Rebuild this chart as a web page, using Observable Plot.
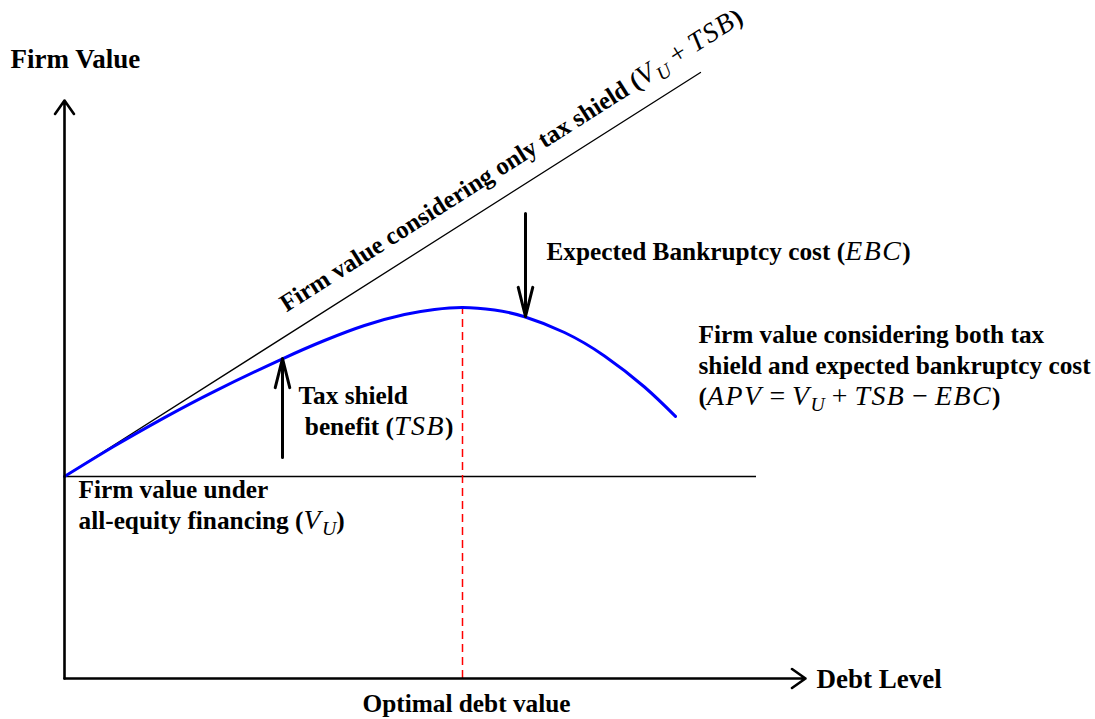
<!DOCTYPE html>
<html>
<head>
<meta charset="utf-8">
<script src="https://cdn.jsdelivr.net/npm/d3@7"></script>
<script src="https://cdn.jsdelivr.net/npm/@observablehq/plot@0.6"></script>
<style>
  html, body { margin: 0; padding: 0; background: #fff; }
  #chart svg { display: block; }
</style>
</head>
<body>
<div id="chart"></div>
<script>
// ---- Data (conceptual units) ----
const debtLevel = [0, 0.5, 1.0, 1.5, 2.18, 2.6, 3.0, 3.4, 3.7, 3.98, 4.3, 4.6, 5.0, 5.4, 5.8, 6.11];
const apvValue  = [2.02, 2.325, 2.609, 2.872, 3.197, 3.380, 3.530, 3.640, 3.690, 3.71, 3.685, 3.618, 3.460, 3.226, 2.915, 2.621];
const unleveredValue = 2.02;          // V_U
const unleveredEnd = 6.92;            // extent of the V_U line
const taxShieldX = [0, 6.36];         // V_U + TSB line
const taxShieldY = [2.02, 6.06];
const optimalDebt = 3.98;
const optimalValue = 3.71;
const axisMaxX = 7.41;
const axisMaxY = 5.78;
const tsbArrow = {x: 2.18, from: 2.21, to: 3.20};
const ebcArrow = {x: 4.61, from: 4.65, to: 3.62};

const labels = [
  {x: -0.54, y: 6.11, text: "Firm Value", size: 27, anchor: "start", lh: 1},
  {x: 7.52, y: -0.09, text: "Debt Level", size: 27, anchor: "start", lh: 1},
  {x: 4.02, y: -0.33, text: "Optimal debt value", size: 25.3, anchor: "middle", lh: 1},
  {x: 4.82, y: 4.19, text: "Expected Bankruptcy cost ($EBC$)", size: 25.3, anchor: "start", lh: 1},
  {x: 6.34, y: 2.74, text: "Firm value considering both tax\nshield and expected bankruptcy cost\n($APV = V_U + TSB − EBC$)", size: 25.3, anchor: "start", lh: 1.22},
  {x: 2.34, y: 2.44, text: "Tax shield\n\u00a0benefit ($TSB$)", size: 25.3, anchor: "start", lh: 1.19},
  {x: 0.14, y: 1.50, text: "Firm value under\nall-equity financing ($V_U$)", size: 25.3, anchor: "start", lh: 1.19}
];
const slopeLabel = {x: 2.22, y: 3.66, text: "Firm value considering only tax shield ($V_U + TSB$)", size: 25};

// ---- Build tables ----
const curve = debtLevel.map((d, i) => ({x: d, y: apvValue[i]}));
const taxLine = taxShieldX.map((d, i) => ({x: d, y: taxShieldY[i]}));

const W = 1095, H = 719;
const xScale = {domain: [0, axisMaxX], range: [64, 805]};
const yScale = {domain: [0, axisMaxY], range: [678, 100]};
const angle = -Math.atan2(
  (taxShieldY[1] - taxShieldY[0]) * (678 - 100) / axisMaxY,
  (taxShieldX[1] - taxShieldX[0]) * (805 - 64) / axisMaxX
) * 180 / Math.PI;

const font = "'Liberation Serif', 'Times New Roman', serif";

const labelMarks = labels.map(l => Plot.text([l], {
  x: "x", y: "y", text: "text", fontSize: l.size, textAnchor: l.anchor,
  lineAnchor: "bottom", lineHeight: l.lh, fontFamily: font, fontWeight: "bold", fill: "black"
}));

const plot = Plot.plot({
  width: W, height: H,
  marginTop: 0, marginRight: 0, marginBottom: 0, marginLeft: 0,
  x: {...xScale, axis: null},
  y: {...yScale, axis: null},
  style: {background: "white", overflow: "visible"},
  marks: [
    // V_U horizontal line
    Plot.ruleY([unleveredValue], {x1: 0, x2: unleveredEnd, stroke: "black", strokeWidth: 1.3}),
    // V_U + TSB line
    Plot.line(taxLine, {x: "x", y: "y", stroke: "black", strokeWidth: 1.3}),
    // optimal debt dashed line
    Plot.ruleX([optimalDebt], {y1: 0, y2: optimalValue, stroke: "#ff0000", strokeWidth: 1.5, strokeDasharray: "8,5"}),
    // APV curve
    Plot.line(curve, {x: "x", y: "y", curve: "natural", stroke: "#0000ff", strokeWidth: 3}),
    // axes
    Plot.arrow([{x1: 0, y1: 0, x2: 0, y2: axisMaxY}], {x1: "x1", y1: "y1", x2: "x2", y2: "y2", stroke: "black", strokeWidth: 2.6, headLength: 9.5, headAngle: 70, strokeLinejoin: "miter"}),
    Plot.arrow([{x1: 0, y1: 0, x2: axisMaxX, y2: 0}], {x1: "x1", y1: "y1", x2: "x2", y2: "y2", stroke: "black", strokeWidth: 2.6, headLength: 9.5, headAngle: 70, strokeLinejoin: "miter"}),
    // TSB / EBC arrows
    Plot.arrow([tsbArrow], {x1: "x", y1: "from", x2: "x", y2: "to", stroke: "black", strokeWidth: 3, headLength: 15, headAngle: 28}),
    Plot.arrow([ebcArrow], {x1: "x", y1: "from", x2: "x", y2: "to", stroke: "black", strokeWidth: 3, headLength: 15, headAngle: 28}),
    // labels
    ...labelMarks,
    Plot.text([slopeLabel], {x: "x", y: "y", text: "text", rotate: angle, textAnchor: "start", lineAnchor: "bottom",
      fontSize: slopeLabel.size, fontFamily: font, fontWeight: "bold", fill: "black"})
  ]
});

// ---- Rich text: $...$ segments become math italics with subscripts ----
const NS = "http://www.w3.org/2000/svg";
function span(parent, txt, attrs) {
  const t = document.createElementNS(NS, "tspan");
  t.textContent = txt;
  for (const k in attrs) t.setAttribute(k, attrs[k]);
  parent.appendChild(t);
  return t;
}
function richify(node, str, fs) {
  while (node.firstChild) node.removeChild(node.firstChild);
  const parts = str.split("$");
  const ms = fs * 1.1;
  let shift = 0;
  parts.forEach((p, i) => {
    if (i % 2 === 0) {
      if (p) { const a = {}; if (shift) { a.dy = -shift; shift = 0; } span(node, p, a); }
      return;
    }
    for (let j = 0; j < p.length; j++) {
      const c = p[j];
      if (c === " ") continue;
      if (/[A-Za-z]/.test(c)) {
        const a = {"font-style": "italic", "font-weight": "normal", "font-size": ms, "letter-spacing": 1.5};
        if (shift) { a.dy = -shift; shift = 0; }
        span(node, c, a);
        if (p[j + 1] === "_") {
          const s = fs * 0.24;
          span(node, p[j + 2], {"font-style": "italic", "font-weight": "normal", "font-size": fs * 0.78, dy: s});
          shift = s;
          j += 2;
        }
      } else {
        const a = {"font-weight": "normal", "font-size": ms};
        if (shift) { a.dy = -shift; shift = 0; }
        span(node, "\u00a0" + c + "\u00a0", a);
      }
    }
  });
}
plot.querySelectorAll("text").forEach(t => {
  if (!t.textContent.includes("$")) return;
  const fs = parseFloat(t.closest("g").getAttribute("font-size")) || 25;
  const lines = t.querySelectorAll("tspan");
  if (lines.length) lines.forEach(l => { if (l.textContent.includes("$")) richify(l, l.textContent, fs); });
  else richify(t, t.textContent, fs);
});

document.getElementById("chart").appendChild(plot);
</script>
</body>
</html>
